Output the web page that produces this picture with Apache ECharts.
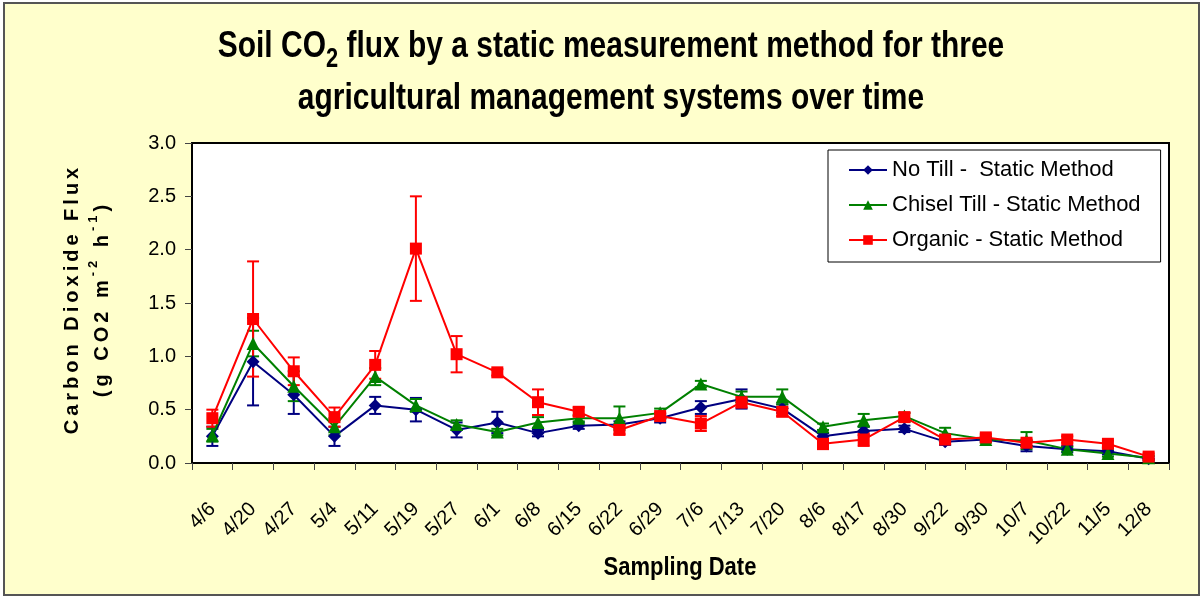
<!DOCTYPE html>
<html>
<head>
<meta charset="utf-8">
<title>Soil CO2 flux</title>
<script src="https://cdn.jsdelivr.net/npm/echarts@6/dist/echarts.min.js"></script>
<style>
  html, body { margin: 0; padding: 0; background: #fff; }
  #main { width: 1202px; height: 596px; }
</style>
</head>
<body>
<div id="main"></div>
<script>
// sampling dates (category axis)
const dates = ['4/6', '4/20', '4/27', '5/4', '5/11', '5/19', '5/27', '6/1', '6/8', '6/15', '6/22', '6/29',
  '7/6', '7/13', '7/20', '8/6', '8/17', '8/30', '9/22', '9/30', '10/7', '10/22', '11/5', '12/8'];

// mean flux, g CO2 m-2 h-1
const noTill = [0.25, 0.95, 0.64, 0.25, 0.54, 0.50, 0.31, 0.38, 0.28, 0.35, 0.36, 0.42,
  0.52, 0.60, 0.51, 0.25, 0.30, 0.32, 0.20, 0.22, 0.16, 0.13, 0.11, 0.04];
const chisel = [0.26, 1.12, 0.72, 0.34, 0.81, 0.54, 0.36, 0.29, 0.38, 0.42, 0.42, 0.47,
  0.74, 0.62, 0.62, 0.34, 0.40, 0.44, 0.28, 0.22, 0.21, 0.13, 0.09, 0.05];
const organic = [0.42, 1.35, 0.86, 0.43, 0.92, 2.01, 1.02, 0.85, 0.57, 0.48, 0.31, 0.44,
  0.37, 0.57, 0.48, 0.18, 0.22, 0.43, 0.22, 0.24, 0.19, 0.22, 0.18, 0.06];

// error bar half widths
const noTillErr = [0.09, 0.41, 0.18, 0.09, 0.08, 0.11, 0.07, 0.10, 0.03, 0.03, 0.03, 0.04,
  0.06, 0.09, 0.04, 0.03, 0.04, 0.03, 0.03, 0.02, 0.05, 0.03, 0.03, 0.02];
const chiselErr = [0.06, 0.12, 0.14, 0.08, 0.08, 0.06, 0.04, 0.03, 0.05, 0.03, 0.11, 0.04,
  0.03, 0.05, 0.07, 0.03, 0.06, 0.03, 0.05, 0.03, 0.08, 0.02, 0.03, 0.02];
const organicErr = [0.08, 0.54, 0.13, 0.09, 0.13, 0.49, 0.17, 0.03, 0.12, 0.04, 0.04, 0.03,
  0.07, 0.05, 0.04, 0.05, 0.06, 0.04, 0.03, 0.03, 0.03, 0.03, 0.03, 0.03];

const yTicks = [0, 0.5, 1.0, 1.5, 2.0, 2.5, 3.0];

const names = ['No Till -  Static Method', 'Chisel Till - Static Method', 'Organic - Static Method'];
const colors = ['#000080', '#008000', '#ff0000'];
const symbols = ['diamond', 'triangle', 'rect'];
const sizes = [13, 13, 12];
const means = [noTill, chisel, organic];
const errs = [noTillErr, chiselErr, organicErr];

const font = '"Liberation Sans", Arial, sans-serif';

// spread letters out (the y axis title is letter-spaced in the original)
function spaced(s, style) {
  return s.split('').map(c => '{' + style + '|' + c + '}').join('');
}

function errSeries(i) {
  const data = means[i].map((v, k) => [k, v - errs[i][k], v + errs[i][k]]);
  return {
    type: 'custom',
    name: names[i] + ' err',
    z: 2,
    silent: true,
    encode: { x: 0, y: [1, 2] },
    data: data,
    renderItem: function (params, api) {
      const lo = api.coord([api.value(0), api.value(1)]);
      const hi = api.coord([api.value(0), api.value(2)]);
      const w = 6;
      const st = { stroke: colors[i], lineWidth: 2 };
      return {
        type: 'group',
        children: [
          { type: 'line', shape: { x1: lo[0], y1: lo[1], x2: hi[0], y2: hi[1] }, style: st },
          { type: 'line', shape: { x1: lo[0] - w, y1: lo[1], x2: lo[0] + w, y2: lo[1] }, style: st },
          { type: 'line', shape: { x1: hi[0] - w, y1: hi[1], x2: hi[0] + w, y2: hi[1] }, style: st }
        ]
      };
    }
  };
}

const series = [];
for (let i = 0; i < 3; i++) series.push(errSeries(i));
for (let i = 0; i < 3; i++) {
  series.push({
    name: names[i],
    type: 'line',
    data: means[i],
    z: 3,
    symbol: symbols[i],
    symbolSize: sizes[i],
    color: colors[i],
    lineStyle: { color: colors[i], width: 2 },
    itemStyle: { color: colors[i] }
  });
}

const yName = spaced('Carbon Dioxide Flux', 'l') + '\n' +
  spaced('(g CO2 m', 'l') + spaced('-2', 's') + spaced(' h', 'l') + spaced('-1', 's') + spaced(')', 'l');

const myChart = echarts.init(document.getElementById('main'));
const option = {
  animation: false,
  backgroundColor: '#fff',
  graphic: [
    {
      type: 'rect', z: -10,
      shape: { x: 4, y: 3, width: 1195, height: 592 },
      style: { fill: '#ffffcc', stroke: '#555', lineWidth: 2 }
    },
    {
      type: 'text', x: 611, y: 73, scaleX: 0.81,
      style: {
        text: 'Soil CO{sub|2} flux by a static measurement method for three\nagricultural management systems over time',
        font: 'bold 37px ' + font,
        fill: '#000', align: 'center', verticalAlign: 'middle', lineHeight: 52,
        rich: { sub: { font: 'bold 27px ' + font, verticalAlign: 'bottom', lineHeight: 20 } }
      }
    },
    {
      type: 'text', x: 87, y: 301, rotation: Math.PI / 2,
      style: {
        text: yName,
        fill: '#000', align: 'center', verticalAlign: 'middle', lineHeight: 30,
        rich: {
          l: { font: 'bold 20px ' + font, padding: [0, 2, 0, 2], lineHeight: 30 },
          s: { font: 'bold 13px ' + font, padding: [0, 2, 0, 2], verticalAlign: 'top', lineHeight: 18 }
        }
      }
    },
    {
      type: 'text', x: 680, y: 568, scaleX: 0.88,
      style: { text: 'Sampling Date', font: 'bold 25px ' + font, fill: '#000', align: 'center', verticalAlign: 'middle' }
    }
  ],
  legend: {
    orient: 'vertical',
    left: 828, top: 150,
    padding: [9, 20, 11, 20],
    itemGap: 13,
    itemWidth: 38, itemHeight: 12,
    backgroundColor: '#fff',
    borderColor: '#000', borderWidth: 1,
    data: names,
    textStyle: { fontFamily: font, fontSize: 22, color: '#000' }
  },
  grid: {
    left: 192, top: 143, right: 33, bottom: 133,
    show: true, backgroundColor: '#fff', borderColor: '#000', borderWidth: 2
  },
  xAxis: {
    type: 'category',
    data: dates,
    boundaryGap: true,
    axisLine: { lineStyle: { color: '#000', width: 2 } },
    axisTick: { show: true, length: 7, lineStyle: { color: '#444' } },
    axisLabel: { rotate: 45, margin: 43, fontFamily: font, fontSize: 20, color: '#000' }
  },
  yAxis: {
    type: 'value',
    min: yTicks[0], max: yTicks[yTicks.length - 1], interval: 0.5,
    splitLine: { show: false },
    axisLine: { show: true, lineStyle: { color: '#000', width: 2 } },
    axisTick: { show: true, length: 7, lineStyle: { color: '#444' } },
    axisLabel: { margin: 16, fontFamily: font, fontSize: 20, color: '#000', formatter: v => v.toFixed(1) }
  },
  series: series
};
myChart.setOption(option);
</script>
</body>
</html>
